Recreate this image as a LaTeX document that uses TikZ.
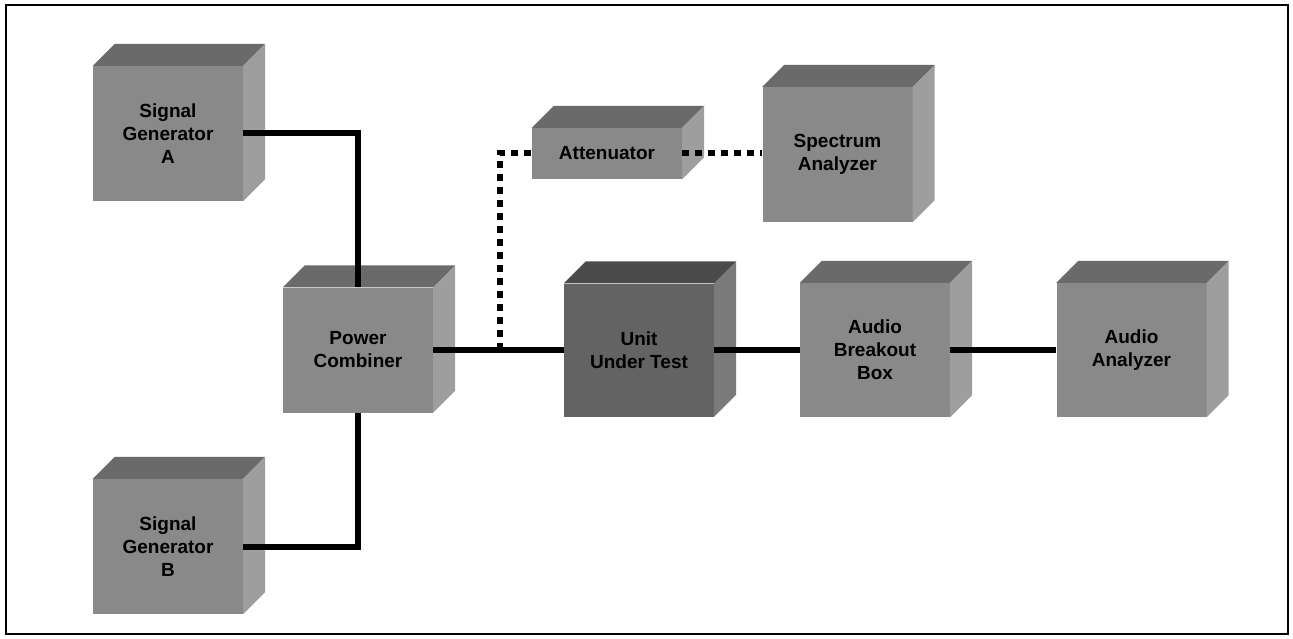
\documentclass[tikz,border=0pt]{standalone}
\usepackage{fontspec}
\setmainfont{Liberation Sans}
\usetikzlibrary{calc}
\definecolor{frontg}{HTML}{898989}
\definecolor{topg}{HTML}{6A6A6A}
\definecolor{sideg}{HTML}{9E9E9E}
\definecolor{uutfront}{HTML}{636363}
\definecolor{uuttop}{HTML}{4B4B4B}
\definecolor{uutside}{HTML}{7A7A7A}
\tikzset{
  unit/.style={fill=frontg,inner sep=0pt,minimum width=150pt,minimum height=135pt,
    align=center,font=\fontsize{19}{23}\selectfont\bfseries},
  cable/.style={line width=6pt},
  probe/.style={line width=6pt,dash pattern=on 7pt off 6pt}
}
\begin{document}
\begin{tikzpicture}[x=1pt,y=-1pt]
  \useasboundingbox (0,0) rectangle (1293,639);
  \draw[line width=2pt] (6,5) rectangle (1288,634);
  % boxes
  \node[unit] (sga) at (168,133.5) {Signal\\Generator\\A};
  \node[unit] (sgb) at (168,546.5) {Signal\\Generator\\B};
  \node[unit,minimum height=125pt] (pc) at (358,350) {Power\\Combiner};
  \node[unit,minimum height=51pt] (att) at (607,153.5) {Attenuator};
  \node[unit] (spa) at (837.5,154.5) {Spectrum\\Analyzer};
  \node[unit,fill=uutfront,minimum height=133pt] (uut) at (639,350) {Unit\\Under Test};
  \node[unit,minimum height=134pt] (abb) at (875,350) {Audio\\Breakout\\Box};
  \node[unit,minimum height=134pt] (aa) at (1131.5,350) {Audio\\Analyzer};
  % top and side faces
  \foreach \n/\tc/\sc in {sga/topg/sideg,sgb/topg/sideg,pc/topg/sideg,att/topg/sideg,
      spa/topg/sideg,uut/uuttop/uutside,abb/topg/sideg,aa/topg/sideg}{
    \fill[\tc] (\n.north west) -- ([shift={(22,-22)}]\n.north west)
      -- ([shift={(22,-22)}]\n.north east) -- (\n.north east) -- cycle;
    \fill[\sc] (\n.north east) -- ([shift={(22,-22)}]\n.north east)
      -- ([shift={(22,-22)}]\n.south east) -- (\n.south east) -- cycle;
  }
  % cables
  \draw[cable] (sga.east) -| (pc.north);
  \draw[cable] (sgb.east) -| (pc.south);
  \draw[cable] (pc.east) -- (uut.west);
  \draw[cable] (uut.east) -- (abb.west);
  \draw[cable] (abb.east) -- (aa.west);
  \coordinate (tap) at ($(pc.east)!0.51!(uut.west)$);
  \draw[probe] (tap) |- (att.west);
  \draw[probe] (att.east) -- (att.east -| spa.west);
\end{tikzpicture}
\end{document}
